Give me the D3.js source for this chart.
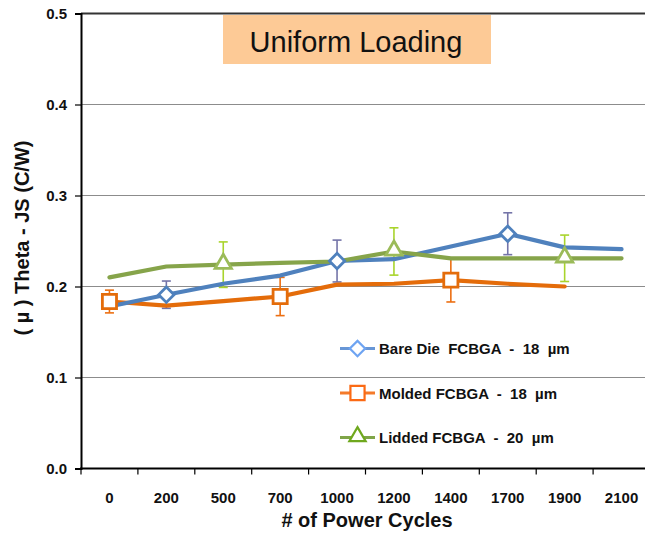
<!DOCTYPE html>
<html>
<head>
<meta charset="utf-8">
<script src="https://cdn.jsdelivr.net/npm/d3@7"></script>
<style>
  body { margin: 0; background: #fff; }
  text { font-family: "Liberation Sans", Arial, sans-serif; }
</style>
</head>
<body>
<div id="chart"></div>
<script>
// Data
const categories = ["0", "200", "500", "700", "1000", "1200", "1400", "1700", "1900", "2100"];
const bareDie = [0.178, 0.191, 0.203, 0.212, 0.228, 0.230, 0.244, 0.258, 0.243, 0.241];
const molded  = [0.1835, 0.179, 0.184, 0.189, 0.202, 0.203, 0.207, 0.203, 0.200, null];
const lidded  = [0.210, 0.222, 0.224, 0.226, 0.2275, 0.2385, 0.231, 0.231, 0.231, 0.231];

// markers with error bars: [category, half-range]
const bareDieErr = [["200", 0.015], ["1000", 0.023], ["1700", 0.023]];
const moldedErr  = [["0", 0.0125], ["700", 0.021], ["1400", 0.024]];
const liddedErr  = [["500", 0.025], ["1200", 0.026], ["1900", 0.0255]];

const yTicks = [0, 0.1, 0.2, 0.3, 0.4, 0.5];

// Set dimensions
const width = 645;
const height = 544;

const svg = d3.select("#chart")
    .append("svg")
    .attr("width", width)
    .attr("height", height);

const x = d3.scaleBand().domain(categories).range([81, 650]).padding(0);
const y = d3.scaleLinear().domain([0, 0.5]).range([468.5, 13.5]);

// gridlines
svg.selectAll(".grid")
    .data(yTicks.slice(1, 5))
    .join("line")
    .attr("x1", 81).attr("x2", width)
    .attr("y1", d => y(d)).attr("y2", d => y(d))
    .attr("stroke", "#8c8c8c")
    .attr("stroke-width", 1.2);

// top border
svg.append("line")
    .attr("x1", 81).attr("x2", width)
    .attr("y1", y(0.5)).attr("y2", y(0.5))
    .attr("stroke", "#333").attr("stroke-width", 2);

// y axis
const yAxis = svg.append("g")
    .attr("transform", "translate(81,0)")
    .call(d3.axisLeft(y).tickValues(yTicks).tickFormat(d3.format(".1f")).tickSize(6).tickPadding(8));
yAxis.select(".domain").attr("stroke", "#000").attr("stroke-width", 2);
yAxis.selectAll(".tick line").attr("stroke", "#000").attr("stroke-width", 1.2);
yAxis.selectAll("text")
    .attr("font-family", "Liberation Sans, Arial, sans-serif")
    .attr("font-size", 15).attr("font-weight", "bold").attr("fill", "#111");

// x axis: ticks at band edges, labels at centres
const xAxisG = svg.append("g").attr("transform", `translate(0,${y(0)})`);
xAxisG.append("line")
    .attr("x1", 80).attr("x2", width)
    .attr("stroke", "#000").attr("stroke-width", 2);
xAxisG.selectAll(".xtick")
    .data(categories)
    .join("line")
    .attr("x1", d => x(d)).attr("x2", d => x(d))
    .attr("y1", 0).attr("y2", 6)
    .attr("stroke", "#000").attr("stroke-width", 1.2);
xAxisG.selectAll(".xlabel")
    .data(categories)
    .join("text")
    .attr("x", d => x(d) + x.bandwidth() / 2)
    .attr("y", 34)
    .attr("text-anchor", "middle")
    .attr("font-size", 15).attr("font-weight", "bold").attr("fill", "#111")
    .text(d => d);

// axis titles
svg.append("text")
    .attr("x", 367).attr("y", 527)
    .attr("text-anchor", "middle")
    .attr("font-size", 20).attr("font-weight", "bold").attr("fill", "#111")
    .text("# of Power Cycles");

svg.append("text")
    .attr("transform", "translate(29,238) rotate(-90)")
    .attr("text-anchor", "middle")
    .attr("font-size", 20).attr("font-weight", "bold").attr("fill", "#111")
    .text("( µ ) Theta - JS (C/W)");

// title box
svg.append("rect")
    .attr("x", 223).attr("y", 15).attr("width", 268).attr("height", 49)
    .attr("fill", "#fdca96");
svg.append("text")
    .attr("x", 356).attr("y", 51.5)
    .attr("text-anchor", "middle")
    .attr("font-size", 29).attr("fill", "#111")
    .text("Uniform Loading");

const series = [
    { name: "Bare Die  FCBGA  -  18  µm", values: bareDie, err: bareDieErr,
      line: "#4f81bd", marker: "#4f81bd", errColor: "#7474a8", shape: "diamond",
      legLine: "#6796d6", legMarker: "#6ea4f2" },
    { name: "Molded FCBGA  -  18  µm", values: molded, err: moldedErr,
      line: "#e46c0a", marker: "#e46c0a", errColor: "#ec6f12", shape: "square",
      legLine: "#f47a2a", legMarker: "#fb6a14" },
    { name: "Lidded FCBGA  -  20  µm", values: lidded, err: liddedErr,
      line: "#86a44a", marker: "#9bbb59", errColor: "#a9d42c", shape: "triangle",
      legLine: "#7fa548", legMarker: "#6fa81e" }
];

const symbolPath = {
    diamond: d3.symbol().type(d3.symbolSquare).size(118)(),
    square: d3.symbol().type(d3.symbolSquare).size(200)(),
    triangle: d3.symbol().type(d3.symbolTriangle).size(115)()
};
const rot = { diamond: 45, square: 0, triangle: 0 };
const yOffset = { diamond: 0, square: 0, triangle: -1 };

const cx = c => x(c) + x.bandwidth() / 2;
const valueAt = (s, c) => s.values[categories.indexOf(c)];

// error bars
series.forEach(s => {
    const g = svg.append("g");
    s.err.forEach(([c, e]) => {
        const v = valueAt(s, c);
        const px = cx(c);
        g.append("line")
            .attr("x1", px).attr("x2", px)
            .attr("y1", y(v + e)).attr("y2", y(v - e))
            .attr("stroke", s.errColor).attr("stroke-width", 1.6);
        [v + e, v - e].forEach(t => {
            g.append("line")
                .attr("x1", px - 4.5).attr("x2", px + 4.5)
                .attr("y1", y(t)).attr("y2", y(t))
                .attr("stroke", s.errColor).attr("stroke-width", 1.6);
        });
    });
});

// lines
const line = d3.line()
    .defined(d => d.v != null)
    .x(d => cx(d.c))
    .y(d => y(d.v));

[series[1], series[0], series[2]].forEach(s => {
    svg.append("path")
        .datum(categories.map((c, i) => ({ c: c, v: s.values[i] })))
        .attr("d", line)
        .attr("fill", "none")
        .attr("stroke", s.line)
        .attr("stroke-width", 4.2)
        .attr("stroke-linecap", "round")
        .attr("stroke-linejoin", "round");
});

// markers
series.forEach(s => {
    svg.selectAll(null)
        .data(s.err)
        .join("path")
        .attr("d", symbolPath[s.shape])
        .attr("transform", d => `translate(${cx(d[0])},${y(valueAt(s, d[0])) + yOffset[s.shape]}) rotate(${rot[s.shape]})`)
        .attr("fill", "#fff")
        .attr("stroke", s.marker)
        .attr("stroke-width", 2.8);
});

// legend
const legendY = [348.5, 393, 437.5];
series.forEach((s, i) => {
    const g = svg.append("g").attr("transform", `translate(0,${legendY[i]})`);
    g.append("line")
        .attr("x1", 340).attr("x2", 375)
        .attr("stroke", s.legLine).attr("stroke-width", 3);
    g.append("path")
        .attr("d", symbolPath[s.shape])
        .attr("transform", `translate(357.5,${s.shape === "triangle" ? -1 : 0}) rotate(${rot[s.shape]})`)
        .attr("fill", "#fff")
        .attr("stroke", s.legMarker)
        .attr("stroke-width", 2.2);
    g.append("text")
        .attr("x", 379).attr("y", 5.5)
        .attr("font-size", 15).attr("font-weight", "bold").attr("fill", "#111")
        .style("white-space", "pre")
        .text(s.name);
});
</script>
</body>
</html>
